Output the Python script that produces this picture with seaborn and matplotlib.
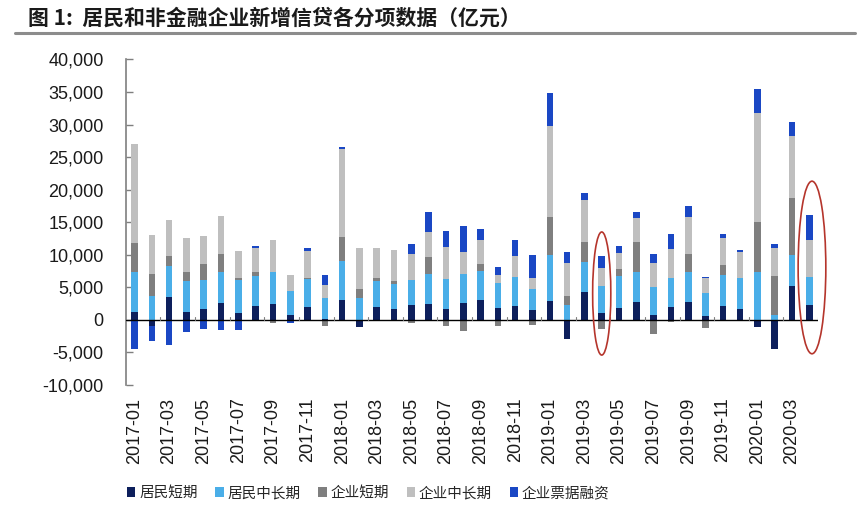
import numpy as np
import matplotlib
matplotlib.use('Agg')
import matplotlib.pyplot as plt
import seaborn as sns
from matplotlib.patches import Patch, Ellipse
from matplotlib.lines import Line2D
from matplotlib.ticker import FuncFormatter

MONTHS = [f'{y}-{m:02d}' for y in (2017, 2018, 2019) for m in range(1, 13)] + \
         [f'2020-{m:02d}' for m in range(1, 5)]

SERIES = ['居民短期', '居民中长期', '企业短期', '企业中长期', '企业票据融资']
COLORS = ['#0d1f5c', '#4aaee8', '#7f7f7f', '#bfbfbf', '#1a47c4']

# new loans by item, 100 million yuan
hh_short = [1200, -900, 3500, 1200, 1700, 2600, 1100, 2200, 2500, 800, 2000, 100,
            3100, -1150, 2000, 1700, 2250, 2400, 1700, 2600, 3100, 1900, 2200, 1500,
            2900, -2900, 4300, 1100, 1900, 2700, 700, 2000, 2700, 600, 2200, 1600,
            -1100, -4500, 5200, 2300]
hh_long = [6200, 3700, 4700, 4700, 4500, 4800, 5000, 4600, 4900, 3700, 4300, 3300,
           6000, 3400, 4000, 3800, 3900, 4650, 4600, 4450, 4350, 3700, 4350, 3300,
           7000, 2300, 4650, 4100, 4800, 4700, 4400, 4500, 4700, 3600, 4700, 4800,
           7400, 800, 4700, 4350]
corp_short = [4350, 3400, 1600, 1400, 2400, 2700, 300, 600, -500, 0, 200, -900,
              3600, 1300, 500, 500, -500, 2600, -1000, -1700, 1100, -1000, 0, -800,
              5900, 1400, 3000, -1400, 1100, 4500, -2100, -350, 2700, -1200, 1500, 0,
              7700, 6000, 8750, 0]
corp_long = [15200, 6000, 5500, 5200, 4300, 5800, 4200, 3600, 4900, 2400, 4100, 1900,
             13500, 6400, 4600, 4800, 4000, 3900, 4900, 3300, 3700, 1300, 3300, 1700,
             14000, 5100, 6500, 2700, 2500, 3700, 3700, 4350, 5700, 2300, 4200, 4000,
             16600, 4200, 9600, 5600]
bill = [-4500, -2300, -3800, -1900, -1400, -1500, -1600, 350, 0, -500, 400, 1600,
        300, 0, 0, 0, 1500, 3000, 2400, 4100, 1700, 1200, 2400, 3500,
        5100, 1700, 1000, 1900, 1100, 1000, 1300, 2350, 1700, 100, 650, 300,
        3700, 600, 2100, 3800]

sns.set_theme(style='white')
plt.rcParams['font.family'] = ['Liberation Sans', 'Noto Sans CJK SC']

fig, ax = plt.subplots(figsize=(8.62, 5.12), dpi=100)
fig.subplots_adjust(left=0.146, right=0.949, top=0.884, bottom=0.248)

# stack positives upward and negatives downward
pos = np.zeros(len(MONTHS))
neg = np.zeros(len(MONTHS))
for vals, name, c in zip([hh_short, hh_long, corp_short, corp_long, bill], SERIES, COLORS):
    v = np.array(vals, dtype=float)
    bottom = np.where(v >= 0, pos, neg)
    sns.barplot(x=MONTHS, y=v, bottom=bottom, color=c, saturation=1, width=0.38,
                errorbar=None, linewidth=0, ax=ax)
    pos += np.where(v >= 0, v, 0)
    neg += np.where(v < 0, v, 0)

ax.axhline(0, color='black', lw=1, zorder=3)
ax.set_xlim(-0.5, len(MONTHS) - 0.5)
ax.set_ylim(-10000, 40000)
ax.set_yticks(range(-10000, 40001, 5000))
ax.yaxis.set_major_formatter(FuncFormatter(lambda v, p: f'{v:,.0f}'))
ax.set_xticks(range(0, len(MONTHS), 2))
ax.set_xticklabels(MONTHS[::2], rotation=90)
ax.set_xlabel('')
ax.set_ylabel('')

for s in ['top', 'right', 'bottom']:
    ax.spines[s].set_visible(False)
ax.spines['left'].set_color('#7f7f7f')
ax.spines['left'].set_linewidth(1.2)
ax.tick_params(axis='y', direction='in', length=5, width=1, color='#7f7f7f',
               pad=16, labelsize=13, labelcolor='#1a1a1a', left=True)
ax.tick_params(axis='x', length=0, pad=9, labelsize=13, labelcolor='#1a1a1a')

# small ticks on the zero line between every other bar
for i in range(1, len(MONTHS), 2):
    ax.plot([i + 0.5, i + 0.5], [0, 500], color='#7f7f7f', lw=0.8, zorder=3)

# red ellipses around 2019-04 and 2020-04
ax.add_patch(Ellipse((27, 4050), 1.05, 18900, fill=False, ec='#b5352c', lw=1.2,
                     clip_on=False, zorder=4))
ax.add_patch(Ellipse((39.15, 8050), 1.6, 26500, fill=False, ec='#b5352c', lw=1.2,
                     clip_on=False, zorder=4))

handles = [Patch(facecolor=c, edgecolor='none') for c in COLORS]
fig.legend(handles, SERIES, loc='center left', bbox_to_anchor=(0.147, 0.037),
           ncol=5, frameon=False, handlelength=0.6, handleheight=0.6,
           handletextpad=0.25, columnspacing=1.2, borderpad=0, borderaxespad=0,
           prop={'family': ['Noto Sans CJK SC'], 'size': 10.5})

fig.text(28 / 862, 1 - 18 / 512, '图 1:  居民和非金融企业新增信贷各分项数据（亿元）',
         ha='left', va='center', fontsize=15, fontweight='bold',
         family=['Noto Sans CJK SC', 'DejaVu Sans'], color='#1a1a1a')
fig.add_artist(Line2D([15 / 862, 855 / 862], [1 - 33 / 512] * 2,
                      color='#8c8c8c', lw=2.2))

fig.savefig('out.png', dpi=100)
